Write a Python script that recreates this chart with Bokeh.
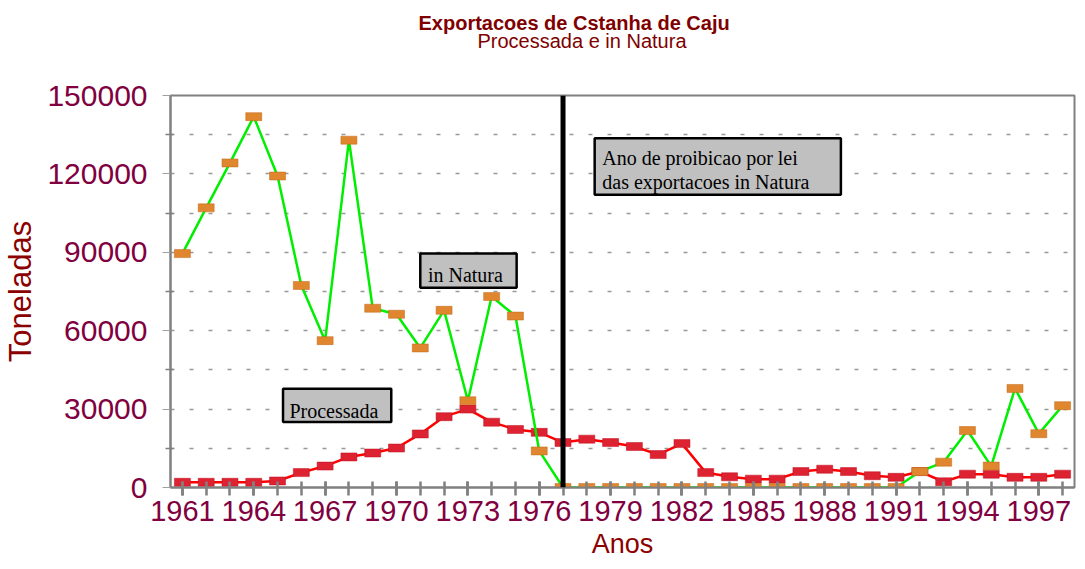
from bokeh.plotting import figure
from bokeh.models import FixedTicker, Label, BoxAnnotation, Span, Range1d, Title
from bokeh.embed import file_html
from bokeh.resources import INLINE

# ---- data ----
years = list(range(1961, 1999))
in_natura = [89500, 107000, 124200, 141900, 119200, 77300, 56200, 132900, 68600,
             66300, 53400, 67800, 33200, 73100, 65600, 14000, 0,
             0, 0, 0, 0, 0, 0, 0, 0, 0, 0, 0, 0, 0, 0,
             6100, 9700, 21800, 8200, 37900, 20600, 31300]
processada = [2000, 2000, 2000, 2000, 2500, 5700, 8200, 11700, 13200, 15100,
              20500, 27100, 30000, 25000, 22200, 21100, 17200,
              18500, 17200, 15700, 12600, 16800, 5700, 4100, 3200, 3200,
              6100, 7000, 6100, 4500, 3900,
              6100, 2200, 5100, 5100, 3900, 3900, 5100]
ban_year = 1977
x_tick_years = list(range(1961, 1998, 3))
y_ticks = [0, 30000, 60000, 90000, 120000, 150000]
y_tick_labels = ["0", "30000", "60000", "90000", "120000", "150000"]
y_minor = [15000, 45000, 75000, 105000, 135000]

title_text = "Exportacoes de Cstanha de Caju"
subtitle_text = "Processada e in Natura"
x_label = "Anos"
y_label = "Toneladas"

# ---- figure ----
p = figure(width=1077, height=561,
           min_border_left=167, min_border_right=3,
           min_border_top=95, min_border_bottom=70,
           x_range=Range1d(1960.5, 1998.5), y_range=Range1d(0, 150000),
           output_backend="svg", toolbar_location=None)
p.background_fill_color = "white"
p.border_fill_color = "white"
p.outline_line_color = "#808080"
p.outline_line_width = 2

tick_col = "#800040"
axis_font = "Liberation Sans"

# titles: first added sits closest to the frame
p.title.visible = False
p.add_layout(Title(text=" ", text_font_size="20px", standoff=19.5), "above")
p.add_layout(Title(text=subtitle_text, align="left", offset=307,
                   text_font=axis_font, text_font_size="20px",
                   text_font_style="normal", text_color="#800000",
                   standoff=0), "above")
p.add_layout(Title(text=title_text, align="left", offset=248,
                   text_font=axis_font, text_font_size="20px",
                   text_font_style="bold", text_color="#800000",
                   standoff=-12.5), "above")

# x axis
p.xaxis.ticker = FixedTicker(ticks=x_tick_years, minor_ticks=years)
p.xaxis.major_label_overrides = {y: str(y) for y in x_tick_years}
p.xaxis.axis_line_color = "#808080"
p.xaxis.axis_line_width = 2
p.xaxis.major_tick_in = 6
p.xaxis.major_tick_out = 8
p.xaxis.minor_tick_in = 6
p.xaxis.minor_tick_out = 8
p.xaxis.major_tick_line_color = "#808080"
p.xaxis.minor_tick_line_color = "#808080"
p.xaxis.major_tick_line_width = 2.5
p.xaxis.minor_tick_line_width = 2.5
p.xaxis.major_label_text_font = axis_font
p.xaxis.major_label_text_font_size = "29px"
p.xaxis.major_label_text_color = tick_col
p.xaxis.major_label_standoff = 5
p.xaxis.axis_label = x_label
p.xaxis.axis_label_text_font = axis_font
p.xaxis.axis_label_text_font_size = "27px"
p.xaxis.axis_label_text_font_style = "normal"
p.xaxis.axis_label_text_color = "#8B0000"
p.xaxis.axis_label_standoff = 5

# y axis
p.yaxis.ticker = FixedTicker(ticks=y_ticks, minor_ticks=y_minor)
p.yaxis.major_label_overrides = dict(zip(y_ticks, y_tick_labels))
p.yaxis.axis_line_color = "#808080"
p.yaxis.axis_line_width = 2
p.yaxis.major_tick_in = 0
p.yaxis.major_tick_out = 8
p.yaxis.minor_tick_in = 3
p.yaxis.minor_tick_out = 5
p.yaxis.major_tick_line_color = "#A0A0A0"
p.yaxis.minor_tick_line_color = "#808080"
p.yaxis.major_tick_line_width = 1
p.yaxis.minor_tick_line_width = 1.5
p.yaxis.major_label_text_font = axis_font
p.yaxis.major_label_text_font_size = "30px"
p.yaxis.major_label_text_color = tick_col
p.yaxis.major_label_standoff = 15
p.yaxis.axis_label = y_label
p.yaxis.axis_label_text_font = axis_font
p.yaxis.axis_label_text_font_size = "31px"
p.yaxis.axis_label_text_font_style = "normal"
p.yaxis.axis_label_text_color = "#8B0000"
p.yaxis.axis_label_standoff = 6

# grid
p.xgrid.grid_line_color = None
p.ygrid.grid_line_color = "#999999"
p.ygrid.grid_line_dash = "4 15"
p.ygrid.grid_line_width = 1.5
p.ygrid.minor_grid_line_color = "#999999"
p.ygrid.minor_grid_line_dash = "4 15"
p.ygrid.minor_grid_line_width = 1.5

# series
p.line(years, processada, line_color="#FF0000", line_width=2.5)
p.rect(years, processada, width=16, height=8, width_units="screen",
       height_units="screen", fill_color="#DD2232", line_color="#C01020", line_width=0.5)
p.line(years, in_natura, line_color="#00EE00", line_width=2.5)
p.rect(years, in_natura, width=16, height=8, width_units="screen",
       height_units="screen", fill_color="#E0862E", line_color="#C06818", line_width=0.5)

# ban year line
p.add_layout(Span(location=ban_year, dimension="height", line_color="black",
                  line_width=5))

# annotation boxes
box_style = dict(fill_color="#C0C0C0", fill_alpha=1, line_color="black",
                 line_width=2.5, line_alpha=1)
p.add_layout(BoxAnnotation(left=1971.0, right=1975.05, bottom=76400, top=89500, **box_style))
p.add_layout(BoxAnnotation(left=1965.23, right=1969.78, bottom=25100, top=37800, **box_style))
p.add_layout(BoxAnnotation(left=1978.33, right=1988.68, bottom=112000, top=133600, **box_style))

lab_style = dict(text_font="Liberation Serif", text_font_size="20px",
                 text_color="black", text_align="left", text_baseline="alphabetic")
p.add_layout(Label(x=1971.32, y=81440, text="in Natura", **lab_style))
p.add_layout(Label(x=1965.50, y=29440, text="Processada", **lab_style))
p.add_layout(Label(x=1978.65, y=126070, text="Ano de proibicao por lei", **lab_style))
p.add_layout(Label(x=1978.65, y=116720, text="das exportacoes in Natura", **lab_style))

open("out.html", "w").write(file_html(p, INLINE))
